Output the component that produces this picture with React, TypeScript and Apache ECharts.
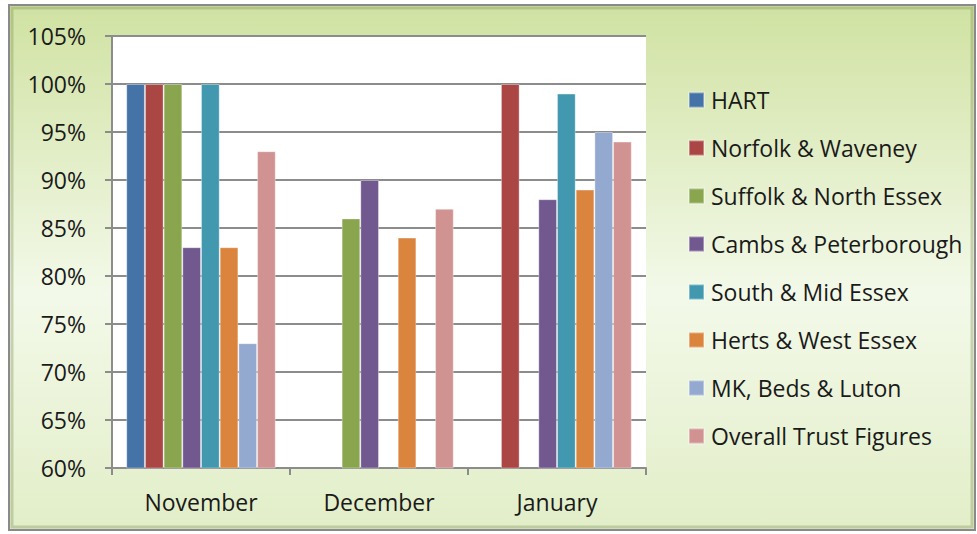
import React, { useEffect, useRef } from "react";
import * as echarts from "echarts";

const categories = ["November", "December", "January"];
const seriesNames = [
  "HART",
  "Norfolk & Waveney",
  "Suffolk & North Essex",
  "Cambs & Peterborough",
  "South & Mid Essex",
  "Herts & West Essex",
  "MK, Beds & Luton",
  "Overall Trust Figures",
];
const hart = [100, null, null];
const norfolk = [100, null, 100];
const suffolk = [100, 86, null];
const cambs = [83, 90, 88];
const southMid = [100, null, 99];
const herts = [83, 84, 89];
const mkBeds = [73, null, 95];
const overall = [93, 87, 94];
const seriesValues = [hart, norfolk, suffolk, cambs, southMid, herts, mkBeds, overall];
const colors = ["#4572A7", "#AA4643", "#89A54E", "#71588F", "#4198AF", "#DB843D", "#93A9CF", "#D19392"];

const FONT = "'Open Sans', 'Noto Sans', sans-serif";

export default function App() {
  const ref = useRef<HTMLDivElement>(null);
  useEffect(() => {
    if (!ref.current) return;
    const chart = echarts.init(ref.current, null, { renderer: "svg" });
    chart.setOption({
      animation: false,
      color: colors,
      graphic: [
        {
          type: "rect",
          z: -10,
          silent: true,
          shape: { x: 9, y: 5, width: 966, height: 525 },
          style: {
            fill: new echarts.graphic.LinearGradient(0, 0, 0, 1, [
              { offset: 0, color: "#d0e2a2" },
              { offset: 0.55, color: "#f3f9e9" },
              { offset: 1, color: "#e2eec8" },
            ]),
            stroke: "#8a8a8a",
            lineWidth: 2,
          },
        },
        {
          type: "rect",
          z: -9,
          silent: true,
          shape: { x: 12, y: 8, width: 960, height: 519 },
          style: { fill: "none", stroke: "rgba(120,140,80,0.35)", lineWidth: 3 },
        },
      ],
      grid: { left: 112, right: 331, top: 36, bottom: 66, show: true, backgroundColor: "#ffffff", borderWidth: 0 },
      legend: {
        orient: "vertical",
        left: 688,
        top: 88,
        padding: 0,
        itemWidth: 15,
        itemHeight: 15,
        itemGap: 24,
        icon: "rect",
        data: seriesNames,
        textStyle: { fontFamily: FONT, fontSize: 23, color: "#1a1a1a", lineHeight: 24, padding: [0, 0, 0, 2] },
      },
      xAxis: {
        type: "category",
        data: categories,
        axisLine: { lineStyle: { color: "#8c8c8c", width: 2 } },
        axisTick: { show: true, length: 7, lineStyle: { color: "#8c8c8c", width: 2 } },
        axisLabel: { fontFamily: FONT, fontSize: 23, color: "#1a1a1a", margin: 22 },
      },
      yAxis: {
        type: "value",
        min: 60,
        max: 105,
        interval: 5,
        axisLine: { show: true, lineStyle: { color: "#8c8c8c", width: 2 } },
        axisTick: { show: true, length: 7, lineStyle: { color: "#8c8c8c", width: 2 } },
        splitLine: { lineStyle: { color: "#8c8c8c", width: 2 } },
        axisLabel: { fontFamily: FONT, fontSize: 23, color: "#1a1a1a", margin: 26, formatter: "{value}%" },
      },
      series: seriesNames.map((name, i) => ({
        name,
        type: "bar",
        data: seriesValues[i],
        barGap: "0%",
        barCategoryGap: "16%",
        itemStyle: { color: colors[i], borderColor: "rgba(255,255,255,0.35)", borderWidth: 1 },
      })),
    });
    return () => chart.dispose();
  }, []);
  return <div ref={ref} style={{ position: "absolute", left: 0, top: 0, width: 977, height: 534 }} />;
}
